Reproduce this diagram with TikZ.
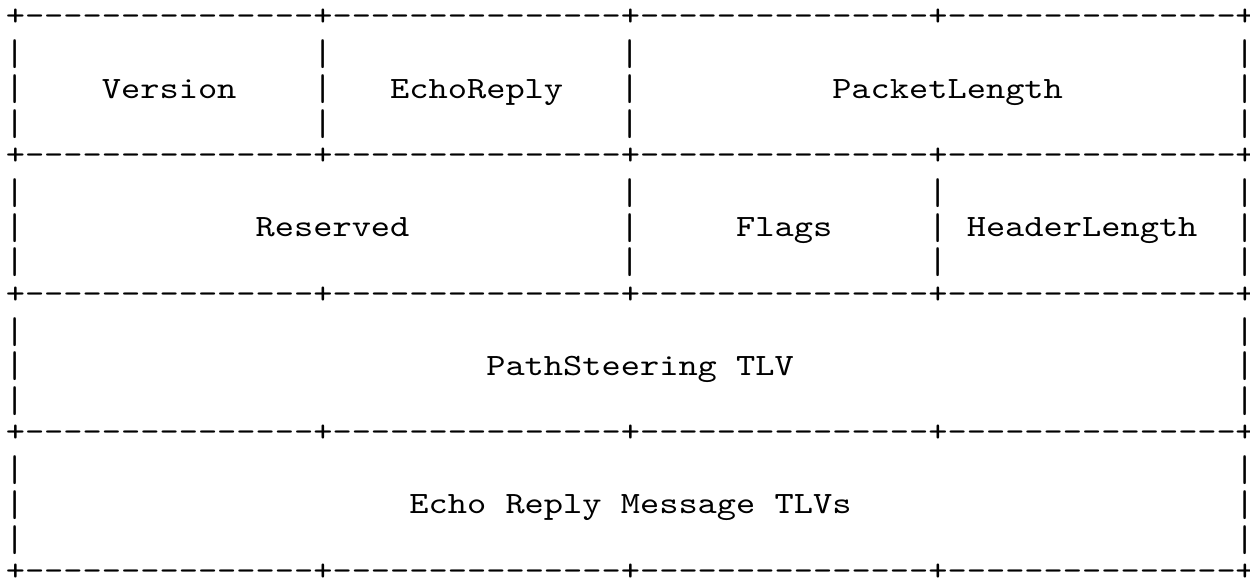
\documentclass[tikz,border=0pt]{standalone}
\usepackage{graphicx}
\usepackage{fontspec}
\setmonofont{lmmono10-regular.otf}[FakeStretch=1.181]

\newcommand{\fieldbar}{\raisebox{-1.2pt}{\scalebox{1}[1.2]{|}}}

\begin{document}
\begin{tikzpicture}[x=9.61pt, y=-17.33pt,
    every node/.style={inner sep=0pt, anchor=base west,
      font=\ttfamily\fontsize{15.5}{15.5}\selectfont},
    rulerow/.style={yshift=1.4pt},
    lastcol/.style={anchor=base}]

    \useasboundingbox (-2.7pt,14.35pt) rectangle (622.3pt,-274.65pt);

    % rules between the rows
    \node[rulerow] (rule0) at (0, 0) {+---------------+---------------+---------------+---------------};
    \node[rulerow] (rule1) at (0, 4) {+---------------+---------------+---------------+---------------};
    \node[rulerow] (rule2) at (0, 8) {+---------------+---------------+---------------+---------------};
    \node[rulerow] (rule3) at (0, 12) {+---------------+---------------+---------------+---------------};
    \node[rulerow] (rule4) at (0, 16) {+---------------+---------------+---------------+---------------};
    \foreach \l in {0,4,8,12,16}
      \node[rulerow, lastcol] (end-\l) at (64.5, \l) {\makebox[0pt]{+}};

    % bars
    \foreach \l in {1,2,3}
      \foreach \c in {0,16,32}
        \node (bara-\c-\l) at (\c, \l) {\fieldbar};
    \foreach \l in {5,6,7}
      \foreach \c in {0,32,48}
        \node (barb-\c-\l) at (\c, \l) {\fieldbar};
    \foreach \l in {9,10,11,13,14,15}
      \node (barc-\l) at (0, \l) {\fieldbar};
    \foreach \l in {1,2,3,5,6,7,9,10,11,13,14,15}
      \node[lastcol] (bard-\l) at (64.5, \l) {\makebox[0pt]{\fieldbar}};

    % fields
    \node (ver) at (5, 2) {Version};
    \node (echo) at (20, 2) {EchoReply};
    \node (plen) at (43, 2) {PacketLength};

    \node (res) at (13, 6) {Reserved};
    \node (flags) at (38, 6) {Flags};
    \node (hlen) at (50, 6) {HeaderLength};

    \node (ps) at (25, 10) {PathSteering TLV};
    \node (tlvs) at (21, 14) {Echo Reply Message TLVs};

  \end{tikzpicture}
\end{document}
